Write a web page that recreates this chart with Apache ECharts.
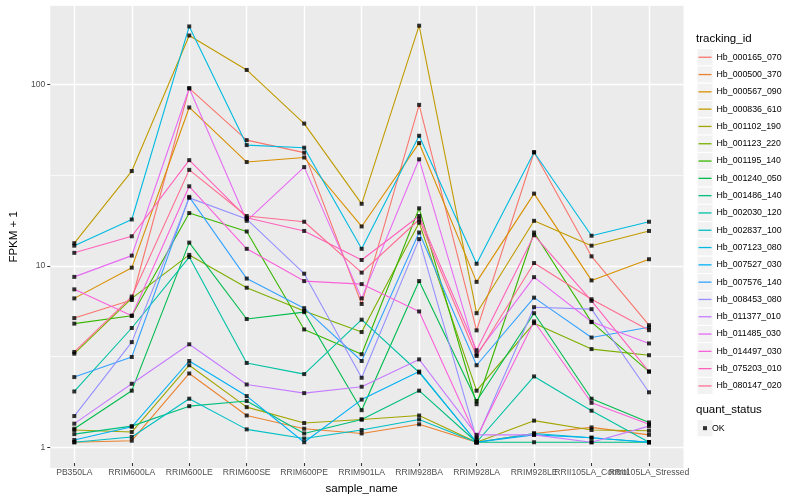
<!DOCTYPE html>
<html><head><meta charset="utf-8">
<script src="https://cdn.jsdelivr.net/npm/echarts@6/dist/echarts.min.js"></script>
<style>html,body{margin:0;padding:0;background:#fff}#c{width:800px;height:500px}</style>
</head><body><div id="c"></div>
<script>
const categories = ['PB350LA','RRIM600LA','RRIM600LE','RRIM600SE','RRIM600PE','RRIM901LA','RRIM928BA','RRIM928LA','RRIM928LE','RRII105LA_Control','RRII105LA_Stressed'];
const trackingIds = ['Hb_000165_070','Hb_000500_370','Hb_000567_090','Hb_000836_610','Hb_001102_190','Hb_001123_220','Hb_001195_140','Hb_001240_050','Hb_001486_140','Hb_002030_120','Hb_002837_100','Hb_007123_080','Hb_007527_030','Hb_007576_140','Hb_008453_080','Hb_011377_010','Hb_011485_030','Hb_014497_030','Hb_075203_010','Hb_080147_020'];
const seriesColors = ['#F8766D','#EA8331','#D89000','#C09B00','#A3A500','#7CAE00','#39B600','#00BB4E','#00BF7D','#00C1A3','#00BFC4','#00BAE0','#00B0F6','#35A2FF','#9590FF','#C77CFF','#E76BF3','#FA62DB','#FF62BC','#FF6C91'];
const yTickValues = [1, 10, 100];

const Hb_000165_070 = [4.93, 6.22, 94.4, 48.5, 41.3, 5.91, 76.3, 4.21, 41.5, 10.9, 4.50];
const Hb_000500_370 = [1.0, 1.02, 2.42, 1.41, 1.19, 1.12, 1.26, 1.0, 1.12, 1.21, 1.10];
const Hb_000567_090 = [6.35, 9.42, 73.8, 36.6, 38.8, 16.0, 46.7, 7.85, 24.4, 8.0, 10.5];
const Hb_000836_610 = [12.9, 32.6, 186, 119.5, 60, 21.4, 211, 5.25, 17.2, 12.5, 15.1];
const Hb_001102_190 = [1.17, 1.14, 2.69, 1.57, 1.28, 1.34, 1.41, 1.0, 1.32, 1.17, 1.16];
const Hb_001123_220 = [3.12, 6.35, 11.1, 7.28, 5.4, 4.12, 16.8, 1.94, 4.62, 3.31, 3.06];
const Hb_001195_140 = [4.59, 5.08, 19.0, 15.0, 4.26, 3.10, 20.2, 1.63, 14.8, 4.68, 2.48];
const Hb_001240_050 = [1.19, 1.94, 13.0, 4.87, 5.32, 1.51, 7.93, 1.70, 5.25, 1.75, 1.29];
const Hb_001486_140 = [1.11, 1.23, 1.59, 1.70, 1.12, 1.34, 1.94, 1.0, 1.0, 1.0, 1.0];
const Hb_002030_120 = [1.92, 4.34, 10.8, 2.77, 2.40, 4.83, 2.45, 1.0, 2.33, 1.50, 1.0];
const Hb_002837_100 = [1.0, 1.07, 1.75, 1.18, 1.05, 1.17, 1.34, 1.0, 1.12, 1.06, 1.0];
const Hb_007123_080 = [12.5, 17.5, 209, 45.5, 44, 12.0, 51.3, 9.91, 41.5, 14.2, 17.0];
const Hb_007527_030 = [1.03, 1.22, 2.84, 1.81, 1.0, 1.73, 2.48, 1.0, 1.10, 1.06, 1.0];
const Hb_007576_140 = [2.31, 2.99, 23.4, 8.19, 5.6, 2.84, 14.8, 2.69, 6.41, 3.84, 4.38];
const Hb_008453_080 = [1.40, 3.62, 23.1, 17.6, 8.72, 2.29, 13.6, 1.04, 5.67, 5.53, 1.90];
const Hb_011377_010 = [1.27, 2.12, 3.52, 2.10, 1.88, 2.04, 2.90, 1.10, 1.10, 1.0, 1.23];
const Hb_011485_030 = [8.37, 11.0, 94.4, 17.2, 34.3, 6.35, 37.9, 3.10, 8.34, 4.7, 3.56];
const Hb_014497_030 = [7.13, 5.08, 26.8, 12.0, 7.93, 7.63, 5.37, 1.06, 4.72, 1.66, 1.26];
const Hb_075203_010 = [11.4, 14.1, 37.5, 17.9, 15.1, 10.4, 18.3, 3.26, 14.3, 6.15, 2.48];
const Hb_080147_020 = [3.19, 6.5, 33.1, 18.3, 17.0, 8.84, 17.5, 3.03, 10.0, 6.28, 4.22];

const seriesValues = [Hb_000165_070,Hb_000500_370,Hb_000567_090,Hb_000836_610,Hb_001102_190,Hb_001123_220,Hb_001195_140,Hb_001240_050,Hb_001486_140,Hb_002030_120,Hb_002837_100,Hb_007123_080,Hb_007527_030,Hb_007576_140,Hb_008453_080,Hb_011377_010,Hb_011485_030,Hb_014497_030,Hb_075203_010,Hb_080147_020];

// layout
const FONT = "'Liberation Sans',Arial,sans-serif";
const PANEL = {left: 40, right: 683.5, top: 5.5, bottom: 468.3};
const XFIRST = 74.3, XLAST = 649;
const YMIN = 0.766, YMAX = 273.5;
const LEG_TOP = 48.6, LEG_STEP = 17.3;

const chart = echarts.init(document.getElementById('c'), null, {renderer: 'canvas'});

const lineSeries = trackingIds.map((id, i) => ({
  name: id, type: 'line', xAxisIndex: 1, yAxisIndex: 2,
  data: seriesValues[i], showSymbol: false, symbol: 'none',
  lineStyle: {color: seriesColors[i], width: 1.1},
  itemStyle: {color: seriesColors[i]},
  emphasis: {disabled: true}, silent: true, z: 2
}));
const pointData = [];
seriesValues.forEach(vals => vals.forEach((v, j) => pointData.push([categories[j], v])));

const keyBoxes = [];
for (let i = 0; i < trackingIds.length; i++) {
  keyBoxes.push({type: 'rect', shape: {x: 697, y: LEG_TOP + i * LEG_STEP, width: 16, height: LEG_STEP},
    style: {fill: '#F2F2F2', stroke: '#ffffff', lineWidth: 1}, z: 0, silent: true});
}
keyBoxes.push({type: 'rect', shape: {x: 697, y: 419.5, width: 16, height: 17.3},
  style: {fill: '#F2F2F2', stroke: '#ffffff', lineWidth: 1}, z: 0, silent: true});

chart.setOption({
  animation: false,
  backgroundColor: '#ffffff',
  textStyle: {fontFamily: FONT},
  title: [
    {text: 'tracking_id', left: 696, top: 33, padding: 0, textStyle: {fontFamily: FONT, fontSize: 11.5, fontWeight: 'normal', color: '#000'}},
    {text: 'quant_status', left: 696, top: 404, padding: 0, textStyle: {fontFamily: FONT, fontSize: 11.5, fontWeight: 'normal', color: '#000'}}
  ],
  graphic: keyBoxes,
  legend: [
    {
      orient: 'vertical', left: 698.5, top: LEG_TOP, padding: 0, itemGap: 0,
      itemWidth: 13, itemHeight: 1.3, icon: 'rect', selectedMode: false,
      data: trackingIds.map((id, i) => ({name: id, itemStyle: {color: seriesColors[i]}})),
      textStyle: {fontFamily: FONT, fontSize: 8.8, color: '#000', lineHeight: LEG_STEP, padding: [0, 0, 0, 0]}
    },
    {
      orient: 'vertical', left: 703, top: 419.5, padding: 0, itemGap: 0,
      itemWidth: 4, itemHeight: 4, icon: 'rect', selectedMode: false,
      data: [{name: 'OK', itemStyle: {color: '#000'}}],
      textStyle: {fontFamily: FONT, fontSize: 8.8, color: '#000', lineHeight: 17.3}
    }
  ],
  grid: [
    {left: PANEL.left, top: PANEL.top, width: PANEL.right - PANEL.left, height: PANEL.bottom - PANEL.top,
     show: true, backgroundColor: '#EBEBEB', borderWidth: 0, containLabel: false},
    {left: XFIRST, top: PANEL.top, width: XLAST - XFIRST, height: PANEL.bottom - PANEL.top,
     show: false, containLabel: false}
  ],
  xAxis: [
    {gridIndex: 0, type: 'value', min: 0, max: 1, show: false},
    {gridIndex: 1, type: 'category', data: categories, boundaryGap: false,
     axisLine: {show: false},
     axisTick: {show: true, length: 3, alignWithLabel: true, lineStyle: {color: '#333333', width: 1}},
     axisLabel: {interval: 0, margin: 5, fontFamily: FONT, fontSize: 8.6, color: '#4D4D4D', hideOverlap: false},
     splitLine: {show: true, interval: 0, lineStyle: {color: '#ffffff', width: 1.4}},
     name: 'sample_name', nameLocation: 'middle', nameGap: 20,
     nameTextStyle: {fontFamily: FONT, fontSize: 11.5, color: '#000'}}
  ],
  yAxis: [
    {gridIndex: 0, type: 'log', logBase: 10, min: YMIN, max: YMAX,
     axisLine: {show: false},
     axisTick: {show: true, length: 3, customValues: yTickValues, lineStyle: {color: '#333333', width: 1}},
     axisLabel: {show: true, customValues: yTickValues, margin: 5,
       fontFamily: FONT, fontSize: 8.6, color: '#4D4D4D',
       formatter: v => (yTickValues.some(t => Math.abs(t - v) < 1e-6 * t) ? String(Math.round(v)) : '')},
     splitLine: {show: true, lineStyle: {color: '#ffffff', width: 1.4}},
     name: 'FPKM + 1', nameLocation: 'middle', nameRotate: 90, nameGap: 23,
     nameTextStyle: {fontFamily: FONT, fontSize: 11.5, color: '#000'}, z: 1},
    {gridIndex: 0, type: 'log', logBase: Math.sqrt(10), min: YMIN, max: YMAX, position: 'left',
     axisLine: {show: false}, axisTick: {show: false}, axisLabel: {show: false},
     splitLine: {show: true, lineStyle: {color: '#ffffff', width: 0.7}}, z: 0},
    {gridIndex: 1, type: 'log', logBase: 10, min: YMIN, max: YMAX, show: false,
     axisLine: {show: false}, axisTick: {show: false}, axisLabel: {show: false}, splitLine: {show: false}}
  ],
  series: lineSeries.concat([{
    name: 'OK', type: 'scatter', xAxisIndex: 1, yAxisIndex: 2, data: pointData,
    symbol: 'rect', symbolSize: 4, itemStyle: {color: '#000000'}, z: 3,
    emphasis: {disabled: true}, silent: true
  }])
});
</script></body></html>
